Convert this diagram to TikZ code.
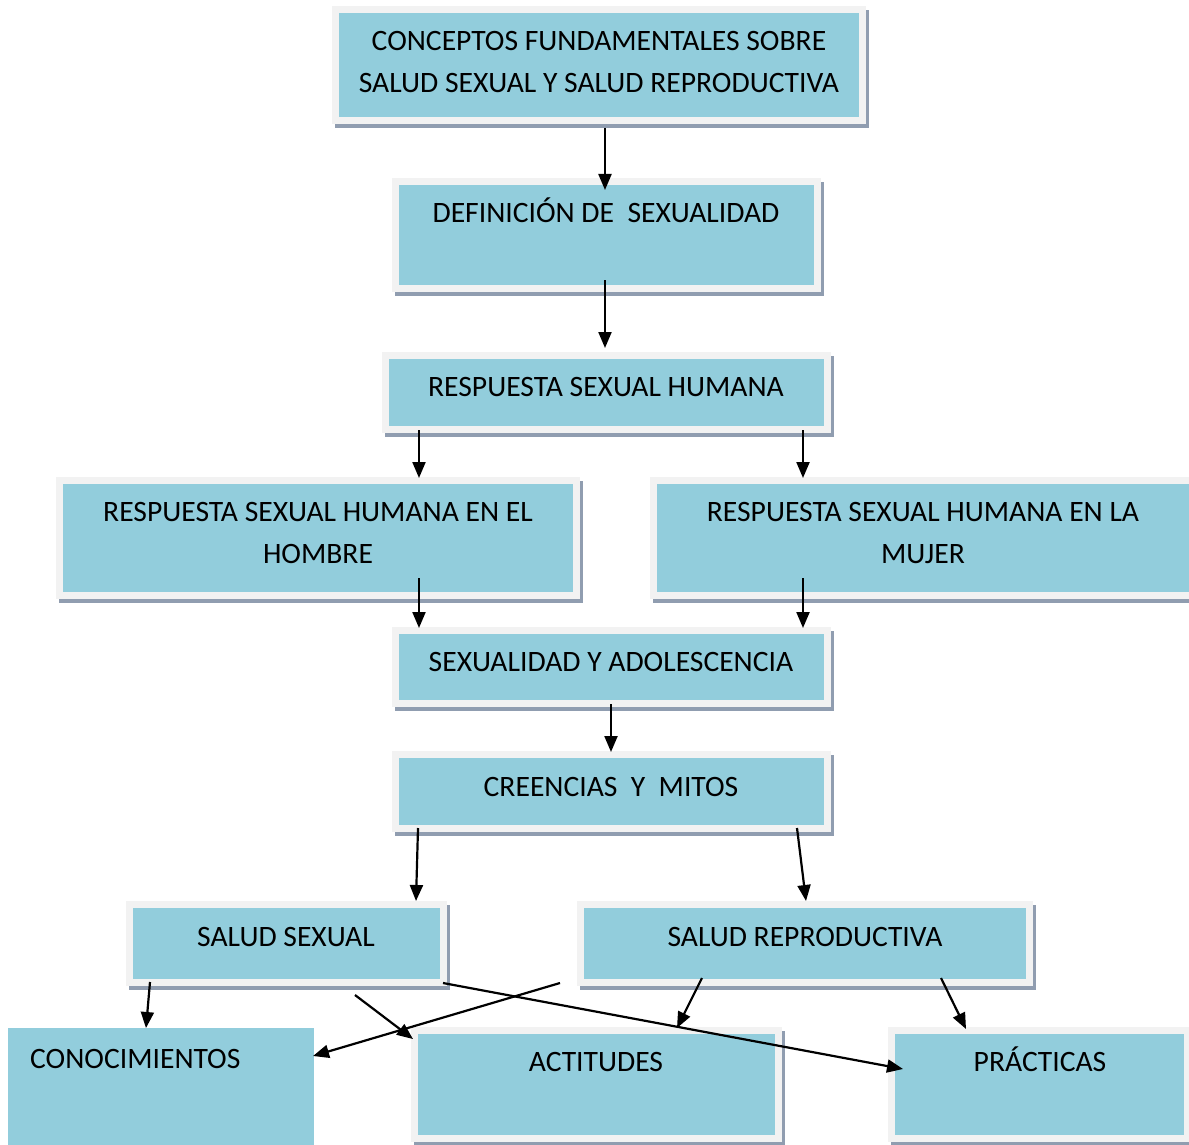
\documentclass[tikz,border=0pt]{standalone}
\usepackage{fontspec}
\setmainfont{Carlito}
\usetikzlibrary{arrows.meta}
\definecolor{boxblue}{HTML}{92CDDC}
\definecolor{framegray}{HTML}{F2F2F2}
\definecolor{shadowc}{HTML}{909DB0}
\tikzset{
  bx/.style={rectangle, inner sep=0pt, fill=boxblue, draw=framegray, line width=7pt,
    preaction={draw=shadowc, fill=shadowc, line width=7pt, transform canvas={shift={(3pt,-4pt)}}}},
  plainbx/.style={rectangle, inner sep=0pt, fill=boxblue},
  lbl/.style={inner sep=0pt, font=\fontsize{29.6}{42}\selectfont, align=center},
  arr/.style={-{Triangle[length=16pt,width=13pt]}, line width=2.2pt, black}
}
\begin{document}
\begin{tikzpicture}[x=1pt,y=-1pt]
\useasboundingbox (0,0) rectangle (1189,1145);
% boxes
\node[bx, minimum width=527pt, minimum height=111pt] (b1) at (599,65) {};
\node[bx, minimum width=422pt, minimum height=107pt] (b2) at (606.5,235) {};
\node[bx, minimum width=442pt, minimum height=74pt] (b3) at (606.5,392.5) {};
\node[bx, minimum width=517pt, minimum height=115pt] (b4) at (318,538) {};
\node[bx, minimum width=546pt, minimum height=115pt] (b5) at (926.75,538) {};
\node[bx, minimum width=432pt, minimum height=73pt] (b6) at (611.5,667) {};
\node[bx, minimum width=432pt, minimum height=74pt] (b7) at (611.5,791.5) {};
\node[bx, minimum width=314pt, minimum height=78pt] (b8) at (286.5,943.5) {};
\node[bx, minimum width=449pt, minimum height=78pt] (b9) at (805,943.5) {};
\node[plainbx, minimum width=306pt, minimum height=122pt] (b10) at (161,1089) {};
\node[bx, minimum width=364pt, minimum height=108pt] (b11) at (596.5,1084.5) {};
\node[bx, minimum width=296pt, minimum height=108pt] (b12) at (1039.5,1084.5) {};
% labels
\node[lbl] (t1) at (599,62) {CONCEPTOS FUNDAMENTALES SOBRE\\SALUD SEXUAL Y SALUD REPRODUCTIVA};
\node[lbl, anchor=base] (t2) at (606,222.5) {DEFINICIÓN DE\ \ SEXUALIDAD};
\node[lbl, anchor=base] (t3) at (606,396.5) {RESPUESTA SEXUAL HUMANA};
\node[lbl] (t4) at (318,533) {RESPUESTA SEXUAL HUMANA EN EL\\HOMBRE};
\node[lbl] (t5) at (923,533) {RESPUESTA SEXUAL HUMANA EN LA\\MUJER};
\node[lbl, anchor=base] (t6) at (611,671.5) {SEXUALIDAD Y ADOLESCENCIA};
\node[lbl, anchor=base] (t7) at (611,796.5) {CREENCIAS\ \ Y\ \ MITOS};
\node[lbl, anchor=base] (t8) at (286,946.5) {SALUD SEXUAL};
\node[lbl, anchor=base] (t9) at (805,946.5) {SALUD REPRODUCTIVA};
\node[lbl, anchor=base west] (t10) at (30,1068.5) {CONOCIMIENTOS};
\node[lbl, anchor=base] (t11) at (596,1071.5) {ACTITUDES};
\node[lbl, anchor=base] (t12) at (1040,1071.5) {PRÁCTICAS};
% connector end points
\coordinate (a1s) at (605,128);  \coordinate (a1e) at (605,190);
\coordinate (a2s) at (605,280);  \coordinate (a2e) at (605,348);
\coordinate (a3s) at (419,430);  \coordinate (a3e) at (419,478);
\coordinate (a4s) at (803,430);  \coordinate (a4e) at (803,478);
\coordinate (a5s) at (419,578);  \coordinate (a5e) at (419,628);
\coordinate (a6s) at (803,578);  \coordinate (a6e) at (803,628);
\coordinate (a7s) at (611,704);  \coordinate (a7e) at (611,752);
\coordinate (a8s) at (418,828);  \coordinate (a8e) at (416,901);
\coordinate (a9s) at (797,828);  \coordinate (a9e) at (806,901);
\coordinate (a10s) at (150,982); \coordinate (a10e) at (146,1028);
\coordinate (a11s) at (355,995); \coordinate (a11e) at (413,1039);
\coordinate (a12s) at (443,983); \coordinate (a12e) at (903,1069);
\coordinate (a13s) at (560,983); \coordinate (a13e) at (313,1056);
\coordinate (a14s) at (702,978); \coordinate (a14e) at (677,1028);
\coordinate (a15s) at (941,978); \coordinate (a15e) at (966,1029);
% connectors
\draw[arr] (a1s) -- (a1e);
\draw[arr] (a2s) -- (a2e);
\draw[arr] (a3s) -- (a3e);
\draw[arr] (a4s) -- (a4e);
\draw[arr] (a5s) -- (a5e);
\draw[arr] (a6s) -- (a6e);
\draw[arr] (a7s) -- (a7e);
\draw[arr] (a8s) -- (a8e);
\draw[arr] (a9s) -- (a9e);
\draw[arr] (a10s) -- (a10e);
\draw[arr] (a11s) -- (a11e);
\draw[arr] (a12s) -- (a12e);
\draw[arr] (a13s) -- (a13e);
\draw[arr] (a14s) -- (a14e);
\draw[arr] (a15s) -- (a15e);
\end{tikzpicture}
\end{document}
